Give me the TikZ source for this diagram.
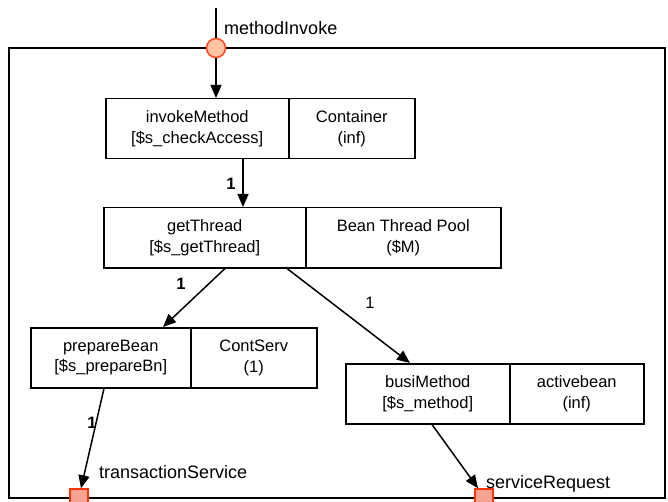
\documentclass[tikz,border=0pt]{standalone}
\usepackage{fontspec}
\setmainfont{Liberation Sans}
\usetikzlibrary{arrows.meta,calc}
\definecolor{portfill}{HTML}{FFC2A3}
\definecolor{portdraw}{HTML}{FF4A1A}
\definecolor{sqfill}{HTML}{F7A393}
\definecolor{sqdraw}{HTML}{FF3300}
\begin{document}
\begin{tikzpicture}[x=1pt,y=-1pt,
  every node/.style={font=\fontsize{16.5}{20.5}\selectfont},
  cell/.style={draw, line width=1.5pt, anchor=north west, align=center, inner sep=0pt, minimum height=60pt},
  arr/.style={line width=1.5pt, -{Triangle[length=13pt,width=11pt]}},
  lbl/.style={inner sep=0pt},
  plbl/.style={inner sep=0pt, anchor=west, font=\fontsize{18}{21}\selectfont},
  mult/.style={inner sep=0pt, font=\fontsize{16.5}{20.5}\selectfont\bfseries},
  port/.style={circle, draw=portdraw, fill=portfill, line width=1.5pt, minimum size=19pt, inner sep=0pt},
  sq/.style={rectangle, draw=sqdraw, fill=sqfill, line width=1.5pt, minimum size=18pt, inner sep=0pt}]
\useasboundingbox (0,0) rectangle (668,502);
% outer frame
\draw[line width=2pt] (9,48) rectangle (665,498);
% boxes
\node[cell, minimum width=183pt] (im) at (105,98) {invokeMethod\\{}[\$s\_checkAccess]};
\node[cell, minimum width=126pt] (imc) at (288,98) {Container\\(inf)};
\node[cell, minimum width=202pt] (gt) at (103,207) {getThread\\{}[\$s\_getThread]};
\node[cell, minimum width=195pt] (gtp) at (305,207) {Bean Thread Pool\\(\$M)};
\node[cell, minimum width=160pt] (pb) at (30,327) {prepareBean\\{}[\$s\_prepareBn]};
\node[cell, minimum width=126pt] (pbc) at (190,327) {ContServ\\(1)};
\node[cell, minimum width=164pt] (bm) at (345,363) {busiMethod\\{}[\$s\_method]};
\node[cell, minimum width=134pt] (bmc) at (509,363) {activebean\\(inf)};
% ports
\coordinate (top) at (216,8);
\node[port] (mi) at (216,48) {};
\node[sq] (ts) at (79,498) {};
\node[sq] (sr) at (484,498) {};
\draw[line width=1.5pt] (top) -- (mi);
% connectors
\draw[arr] (mi) -- (im.north -| mi);
\draw[arr] ([xshift=138pt]im.south west) -- ([xshift=140pt]gt.north west);
\draw[arr] ([xshift=122pt]gt.south west) -- ([xshift=133pt]pb.north west);
\draw[arr] ([xshift=184pt]gt.south west) -- ([xshift=65pt]bm.north west);
\draw[arr] ([xshift=74pt]pb.south west) -- ([xshift=2pt]ts.north);
\draw[arr] ([xshift=87pt]bm.south west) -- ([xshift=-6pt]sr.north);
% labels
\node[plbl] (lmi) at (224,28) {methodInvoke};
\node[plbl] (lts) at (99,472) {transactionService};
\node[plbl] (lsr) at (486,484) {serviceRequest};
\node[mult] (m1) at (231,184) {1};
\node[mult] (m2) at (181,284) {1};
\node[lbl] (m3) at (370,303) {1};
\node[mult] (m4) at (92,423) {1};
\end{tikzpicture}
\end{document}
